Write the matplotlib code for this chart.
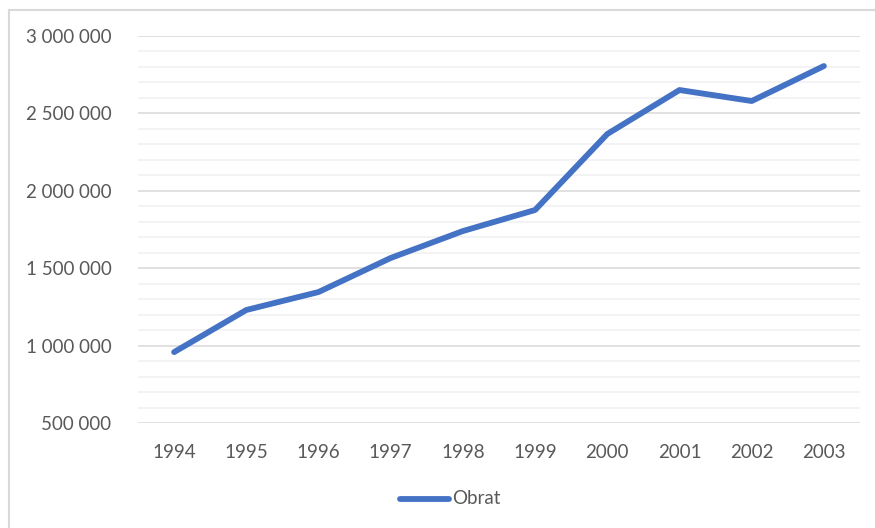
import matplotlib
matplotlib.use("Agg")
import matplotlib.pyplot as plt
from matplotlib.ticker import MultipleLocator, FuncFormatter
from matplotlib.lines import Line2D

years = ["1994", "1995", "1996", "1997", "1998", "1999", "2000", "2001", "2002", "2003"]
obrat = [958000, 1230000, 1346000, 1566000, 1740000, 1876000, 2367000, 2651000, 2580000, 2806000]
series_name = "Obrat"

plt.rcParams['font.family'] = ['Lato', 'DejaVu Sans']
txt = "#595959"

fig = plt.figure(figsize=(8.75, 5.28), dpi=100)
ax = fig.add_axes([138/875, 1-423/528, (860-138)/875, (423-36)/528])

x = list(range(len(years)))
ax.plot(x, obrat, color="#4472C4", lw=4.2, solid_capstyle="round", solid_joinstyle="round", zorder=3)

ax.set_xlim(-0.5, len(years)-0.5)
ax.set_ylim(500000, 3000000)
ax.yaxis.set_major_locator(MultipleLocator(500000))
ax.yaxis.set_minor_locator(MultipleLocator(100000))
ax.yaxis.set_major_formatter(FuncFormatter(lambda v, p: f"{int(v):,}".replace(",", " ")))
ax.set_xticks(x)
ax.set_xticklabels(years)
ax.grid(axis="y", which="major", color="#D9D9D9", lw=1.1, zorder=1)
ax.grid(axis="y", which="minor", color="#F0F0F0", lw=1.1, zorder=0)
for s in ax.spines.values():
    s.set_visible(False)
ax.tick_params(axis="both", which="both", length=0, colors=txt, labelsize=13.5)
ax.tick_params(axis="y", pad=19)
ax.tick_params(axis="x", pad=15)

# legend
fig.add_artist(Line2D([400/875, 449/875], [1-499/528, 1-499/528], color="#4472C4", lw=4.2, solid_capstyle="round"))
fig.text(452/875, 1-499/528, series_name, color=txt, fontsize=13.5, va="center", ha="left")

# outer frame (cropped at right/bottom)
fig.add_artist(Line2D([9/875, 1], [1-10/528, 1-10/528], color="#D9D9D9", lw=1.5))
fig.add_artist(Line2D([9/875, 9/875], [0, 1-10/528], color="#D9D9D9", lw=1.5))

fig.savefig("out.png", dpi=100)
